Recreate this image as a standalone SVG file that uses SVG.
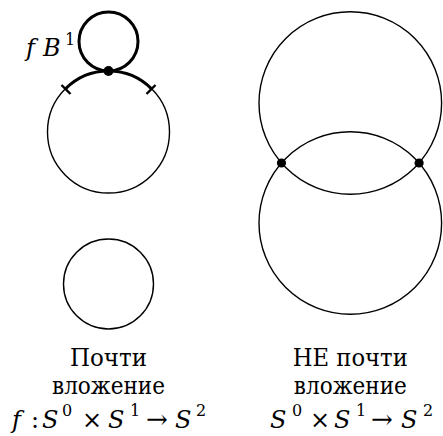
<svg xmlns="http://www.w3.org/2000/svg" width="443" height="436" viewBox="0 0 443 436">
<style>
.thin{fill:none;stroke:#000;stroke-width:1.4}
.thick{fill:none;stroke:#000;stroke-width:3}
.tick{fill:none;stroke:#000;stroke-width:2.4}
.dot{fill:#000}
text{font-size:24px;fill:#000;font-family:"DejaVu Serif","Noto Serif",serif}
.it{font-style:italic}
.sup{font-size:16px}
.ar{font-size:26px}
</style>
<rect width="443" height="436" fill="#fff"/>
<g id="left-figure">
<circle class="thin" cx="108.5" cy="132" r="61"/>
<path class="thick" d="M65.4 88.9 A61 61 0 0 1 151.6 88.9"/>
<circle class="thick" cx="108.5" cy="41.5" r="29.5"/>
<line class="tick" x1="61.5" y1="85" x2="70.5" y2="94"/>
<line class="tick" x1="146.5" y1="94" x2="155.5" y2="85"/>
<circle class="dot" cx="108.5" cy="71" r="5"/>
<text y="56"><tspan class="it" x="26">f</tspan><tspan class="it" x="43">B</tspan><tspan class="sup" x="65" y="45">1</tspan></text>
</g>
<g id="left-bottom-circle">
<circle class="thin" cx="108.5" cy="284" r="45"/>
</g>
<g id="right-figure">
<circle class="thin" cx="350.3" cy="103" r="91.3"/>
<circle class="thin" cx="350.3" cy="223" r="91.3"/>
<circle class="dot" cx="281.5" cy="163" r="4.6"/>
<circle class="dot" cx="419.1" cy="163" r="4.6"/>
</g>
<g id="left-label">
<text x="108.5" y="366" text-anchor="middle" textLength="77" lengthAdjust="spacingAndGlyphs">Почти</text>
<text x="108.5" y="394" text-anchor="middle" textLength="113" lengthAdjust="spacingAndGlyphs">вложение</text>
<text y="428"><tspan class="it" x="12">f</tspan><tspan x="31">:</tspan><tspan class="it" x="42">S</tspan><tspan class="sup" x="62" y="416">0</tspan><tspan x="82" y="428">×</tspan><tspan class="it" x="108">S</tspan><tspan class="sup" x="130" y="416">1</tspan><tspan class="ar" x="146" y="428">→</tspan><tspan class="it" x="175">S</tspan><tspan class="sup" x="196" y="416">2</tspan></text>
</g>
<g id="right-label">
<text x="350.3" y="366" text-anchor="middle" textLength="115" lengthAdjust="spacingAndGlyphs">НЕ почти</text>
<text x="350.3" y="394" text-anchor="middle" textLength="113" lengthAdjust="spacingAndGlyphs">вложение</text>
<text y="428"><tspan class="it" x="270">S</tspan><tspan class="sup" x="292" y="416">0</tspan><tspan x="310" y="428">×</tspan><tspan class="it" x="334">S</tspan><tspan class="sup" x="356" y="416">1</tspan><tspan class="ar" x="371" y="428">→</tspan><tspan class="it" x="401">S</tspan><tspan class="sup" x="423" y="416">2</tspan></text>
</g>
</svg>
